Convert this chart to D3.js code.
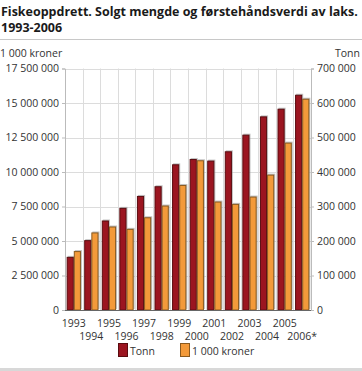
<!DOCTYPE html>
<html><head><meta charset="utf-8">
<script src="https://cdn.jsdelivr.net/npm/d3@7"></script>
<style>body{margin:0;background:#fff}svg{display:block}text{font-family:"Open Sans",sans-serif}</style>
</head><body><svg id="c" width="362" height="371"></svg>
<script>
const years = ["1993","1994","1995","1996","1997","1998","1999","2000","2001","2002","2003","2004","2005","2006*"];
const tonn = [154000,202500,259400,296000,330600,358700,422300,437600,433000,460000,508200,561200,583400,623900];
const kroner = [4270000,5620000,6050000,5880000,6720000,7570000,9060000,10850000,7860000,7690000,8220000,9810000,12130000,15310000];
const leftTicks = [0,2500000,5000000,7500000,10000000,12500000,15000000,17500000];
const rightTicks = [0,100000,200000,300000,400000,500000,600000,700000];
const seriesNames = ["Tonn","1 000 kroner"];
const colors = ["#9b1520","#f39a3a"];
const strokes = ["#5a0c10","#8a5a20"];

const svg = d3.select("#c");
const L = 65, R = 311, T = 68.5, B = 310;
const fmt = v => d3.format(",")(v).replace(/,/g," ");

const t1 = svg.append("text").attr("x",1).attr("y",16).attr("font-size",14).attr("font-weight","bold").attr("fill","#1a1a1a")
  .text("Fiskeoppdrett. Solgt mengde og førstehåndsverdi av laks.");
const w = t1.node().getComputedTextLength();
const fs = Math.min(14, 14*357/w);
t1.attr("font-size",fs);
svg.append("text").attr("x",1).attr("y",32).attr("font-size",fs).attr("font-weight","bold").attr("fill","#1a1a1a").text("1993-2006");
svg.append("line").attr("x1",0).attr("x2",362).attr("y1",39.5).attr("y2",39.5).attr("stroke","#c8c8c8").attr("stroke-width",1);
svg.append("text").attr("x",0).attr("y",57).attr("font-size",10.5).attr("fill","#333").text("1 000 kroner");
svg.append("text").attr("x",360).attr("y",57).attr("font-size",10.5).attr("fill","#333").attr("text-anchor","end").text("Tonn");

const x = d3.scaleBand().domain(years).range([L,R]).padding(0);
const xi = d3.scaleBand().domain(seriesNames).range([0,x.bandwidth()]).paddingOuter(0.23).paddingInner(0);
const yL = d3.scaleLinear().domain([0,17500000]).range([B,T]);
const yR = d3.scaleLinear().domain([0,700000]).range([B,T]);

// grid
const g = svg.append("g");
g.selectAll("line.h").data(leftTicks.slice(1)).join("line")
  .attr("x1",L).attr("x2",R).attr("y1",d=>Math.round(yL(d))+0.5).attr("y2",d=>Math.round(yL(d))+0.5)
  .attr("stroke","#dcdcdc");
g.selectAll("line.v").data(years.slice(1).map(y=>x(y)).concat([R])).join("line")
  .attr("x1",d=>Math.round(d)+0.5).attr("x2",d=>Math.round(d)+0.5).attr("y1",T).attr("y2",B)
  .attr("stroke","#dcdcdc");

// axes
const ax = svg.append("g").attr("transform",`translate(${L},0)`)
  .call(d3.axisLeft(yL).tickValues(leftTicks).tickFormat(fmt).tickSize(3).tickPadding(3));
const axr = svg.append("g").attr("transform",`translate(${R},0)`)
  .call(d3.axisRight(yR).tickValues(rightTicks).tickFormat(fmt).tickSize(3).tickPadding(3));
[ax,axr].forEach(a=>{
  a.select(".domain").attr("stroke","#bbb");
  a.selectAll(".tick line").attr("stroke","#bbb");
  a.selectAll("text").attr("font-size",10.5).attr("fill","#333").attr("font-family","'Open Sans',sans-serif");
});

// bars
const data = years.map((y,i)=>({y, v:[tonn[i],kroner[i]]}));
const grp = svg.append("g").selectAll("g").data(data).join("g").attr("transform",d=>`translate(${x(d.y)},0)`);
[0,1].forEach(k=>{
  const sc = k===0 ? yR : yL;
  grp.append("rect").attr("x",d=>xi(seriesNames[k])+1).attr("y",d=>sc(d.v[k])-1)
    .attr("width",xi.bandwidth()).attr("height",d=>B-sc(d.v[k])).attr("fill","#999").attr("opacity",0.6);
});
[0,1].forEach(k=>{
  const sc = k===0 ? yR : yL;
  grp.append("rect").attr("x",d=>xi(seriesNames[k])+0.5).attr("y",d=>sc(d.v[k])+0.5)
    .attr("width",xi.bandwidth()-1).attr("height",d=>Math.max(0,B-sc(d.v[k])-0.5))
    .attr("fill",colors[k]).attr("stroke",strokes[k]).attr("stroke-width",1);
});

svg.append("line").attr("x1",L).attr("x2",R).attr("y1",B+0.5).attr("y2",B+0.5).attr("stroke","#666");

// x labels
svg.append("g").selectAll("text").data(years).join("text")
  .attr("x",d=>x(d)+x.bandwidth()/2).attr("y",(d,i)=>i%2===0?327:340)
  .attr("text-anchor","middle").attr("font-size",10.5).attr("fill","#333").text(d=>d);

// legend
const leg = [{n:seriesNames[0],x:118},{n:seriesNames[1],x:180}];
leg.forEach((l,k)=>{
  svg.append("rect").attr("x",l.x+0.5).attr("y",343.5).attr("width",9).attr("height",13)
    .attr("fill",colors[k]).attr("stroke",strokes[k]);
  svg.append("text").attr("x",l.x+12).attr("y",355).attr("font-size",10.5).attr("fill","#333").text(l.n);
});
svg.append("rect").attr("x",0).attr("y",368).attr("width",362).attr("height",3).attr("fill","#d8d8d8");
</script></body></html>
